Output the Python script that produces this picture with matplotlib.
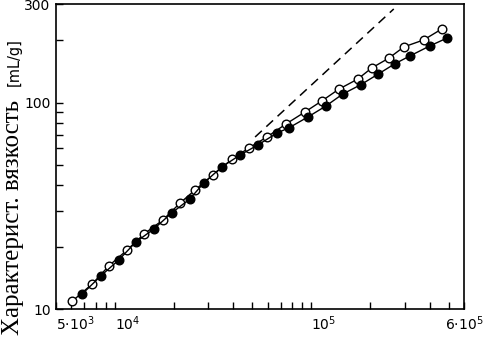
import numpy as np
import matplotlib
matplotlib.use("Agg")
import matplotlib.pyplot as plt
from matplotlib.ticker import LogLocator, NullFormatter, FixedLocator

# molar mass (x) and intrinsic viscosity [mL/g] (y)
open_x = [6070, 7670, 9350, 11550, 14100, 17600, 21500, 25600, 31600, 39500,
          48200, 59500, 74300, 92700, 113000, 138000, 172600, 203000, 248000,
          296000, 373000, 461000]
open_y = [10.9, 13.2, 16.2, 19.3, 23.1, 27.0, 32.6, 37.7, 44.6, 53.2,
          60.3, 68.1, 78.7, 89.9, 101.7, 116, 130, 147, 164,
          186, 201, 227]

fill_x = [6820, 8520, 10500, 12800, 15800, 19500, 24100, 28400, 35100, 43400,
          53500, 66800, 76900, 96100, 118700, 144700, 178700, 218000, 266000,
          317000, 401000, 489000]
fill_y = [11.8, 14.5, 17.3, 21.1, 24.4, 29.2, 34.1, 40.8, 48.8, 55.7,
          62.3, 71.1, 75.4, 85.1, 96.2, 110, 122, 137, 154,
          168, 188, 205]

dash_x = [51800, 263000]
dash_y = [68.1, 284]

xticks = [5e3, 1e4, 1e5, 6e5]
xlabels = [r'$5{\cdot}10^3$', r'$10^4$', r'$10^5$', r'$6{\cdot}10^5$']
yticks = [10, 100, 300]
ylabels = ['10', '100', '300']

fig = plt.figure(figsize=(4.83, 3.37), dpi=100)
ax = fig.add_axes([0.115, 0.083, 0.846, 0.905])

ax.plot(dash_x, dash_y, color='black', lw=1.1, ls=(0, (6, 4)))
ax.plot(open_x, open_y, color='black', lw=1.0, marker='o', ms=6.2,
        mfc='white', mec='black', mew=1.0, zorder=3)
ax.plot(fill_x, fill_y, color='black', lw=1.0, marker='o', ms=6.2,
        mfc='black', mec='black', zorder=4)

ax.set_xscale('log')
ax.set_yscale('log')
ax.set_xlim(5e3, 6e5)
ax.set_ylim(10, 300)

ax.xaxis.set_major_locator(FixedLocator(xticks))
ax.set_xticklabels(xlabels)
ax.xaxis.set_minor_locator(LogLocator(base=10, subs=np.arange(2, 10)))
ax.xaxis.set_minor_formatter(NullFormatter())
ax.yaxis.set_major_locator(FixedLocator(yticks))
ax.set_yticklabels(ylabels)
ax.yaxis.set_minor_locator(LogLocator(base=10, subs=np.arange(2, 10)))
ax.yaxis.set_minor_formatter(NullFormatter())

ax.tick_params(which='both', direction='in', length=5, width=1,
               top=False, right=False, labelsize=10)
ax.tick_params(axis='x', pad=4)
for lab, ha in zip(ax.get_xticklabels(), ['left', 'left', 'left', 'center']):
    lab.set_horizontalalignment(ha)

for sp in ax.spines.values():
    sp.set_linewidth(1.2)

fig.text(0.027, 0.005, 'Характерист. вязкость', rotation=90, ha='center',
         va='bottom', family='Liberation Serif', fontsize=18)
fig.text(0.03, 0.815, '[mL/g]', rotation=90, ha='center', va='center',
         family='DejaVu Sans', fontsize=10.5)

fig.savefig('out.png', dpi=100)
